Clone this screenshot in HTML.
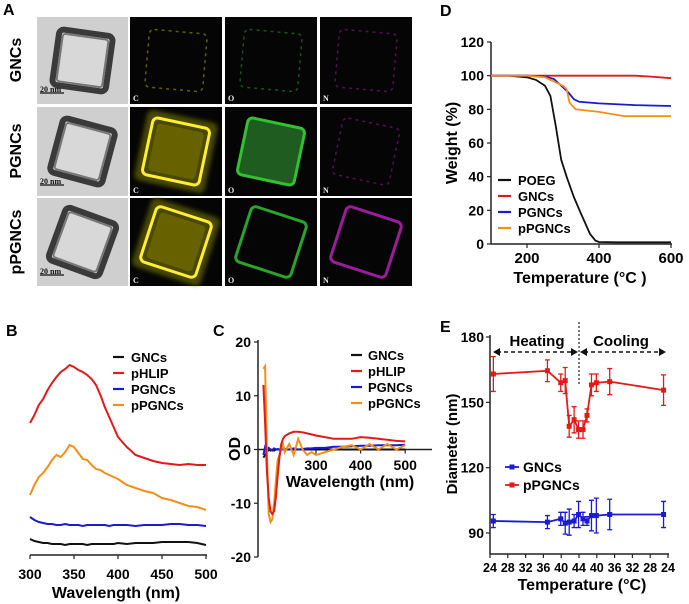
<!DOCTYPE html>
<html><head><meta charset="utf-8"><style>
html,body{margin:0;padding:0;background:#fff;}
svg{display:block;font-family:"Liberation Sans",Arial,sans-serif;font-weight:bold;}
</style></head><body>
<svg id="fig" width="689" height="604" viewBox="0 0 689 604" xmlns="http://www.w3.org/2000/svg">
<defs>
<filter id="glow" x="-30%" y="-30%" width="160%" height="160%"><feGaussianBlur stdDeviation="2.2"/></filter>
<filter id="soft"><feGaussianBlur stdDeviation="1"/></filter>
</defs>
<!-- Panel A -->
<g>
<text x="3" y="15" font-size="16">A</text>
<text transform="translate(21,60) rotate(-90)" text-anchor="middle" font-size="16">GNCs</text>
<text transform="translate(21,151) rotate(-90)" text-anchor="middle" font-size="16">PGNCs</text>
<text transform="translate(21,242) rotate(-90)" text-anchor="middle" font-size="16">pPGNCs</text>
<g id="cells"></g>
</g>
<!-- Panel B -->
<g id="pb">
<text x="6" y="336" font-size="16">B</text>
</g>
<g id="pc">
<text x="213" y="336" font-size="16">C</text>
</g>
<g id="pd">
<text x="440" y="16" font-size="16">D</text>
</g>
<g id="pe">
<text x="440" y="332" font-size="16">E</text>
</g>
</svg>
<script>
// ---------- Panel B data ----------
const bWave = [300,305,310,315,320,325,330,335,340,345,350,355,360,365,370,375,380,385,390,395,400,410,420,430,440,450,460,470,480,490,500];
const bRed = [132,140,150,156,165,172,178,183,186,190,188,185,183,180,176,170,160,148,138,128,118,108,100,97,94,92,91,90,91,90,90];
const bOrange = [60,70,78,82,88,95,100,98,103,110,108,102,96,95,90,86,85,82,80,78,76,70,67,64,62,57,55,52,49,48,45];
const bBlue = [38,35,33,32,31,31,30,30,31,30,30,30,29,30,30,30,30,30,29,30,30,30,29,30,30,30,31,31,30,30,29];
const bBlack = [16,14,13,12,12,11,11,11,10,11,11,11,11,10,11,11,11,11,11,11,12,11,12,12,12,13,13,13,13,12,10];
const bSeries = ["GNCs","pHLIP","PGNCs","pPGNCs"];
const bTicks = [300,350,400,450,500];
// ---------- Panel C data ----------
const cWave = [182,186,190,194,198,202,206,210,214,218,222,226,230,240,250,260,270,280,290,300,320,340,360,380,400,420,440,460,480,500];
const cRed = [12,5,-4,-9,-11.5,-12,-11.5,-9,-5,-1.5,1,2,2.5,3,3.3,3.3,3.2,3,2.8,2.6,2.3,2,2,2,2.3,2.2,2,1.8,1.6,1.5];
const cOrange = [15,15.5,0,-12,-13.5,-13,-10,-6,-2,-1,0,1,-0.5,1,-1,2,0,-1,-0.5,-1,-0.5,0,0.5,0.8,0,1,0,1,0,0.8];
const cBlue = [-1,0.5,0,0.3,0,-0.2,0.2,0,0.1,0,0,0,0.1,0,0.2,0,0.1,0.2,0.2,0.3,0.3,0.5,0.5,0.6,0.7,0.7,0.8,0.8,0.8,0.9];
const cBlack = [-1.5,-1,-0.5,0,-0.2,0,-0.2,0,0,0,0,0,0,0,0,0,0,0,0,0,0,0,0,0,0,0,0,0,0,0];
const cYTicks = [20,10,0,-10,-20];
const cXTicks = [300,400,500];
// ---------- Panel D data ----------
const dPoegT = [100,150,200,225,250,265,280,295,310,330,350,375,390,400,450,600];
const dPoeg = [100,100,99,97.5,94,88,70,50,40,28,18,6,2,1.2,1,1];
const dGncT = [100,200,300,400,500,540,600];
const dGnc = [100,100,100,100,100,99.5,98.5];
const dPgT = [100,200,250,275,300,315,330,345,400,500,600];
const dPg = [100,100,99.5,98,93,90,86,84.5,83.5,82.5,82];
const dPpT = [100,200,250,300,310,318,335,400,470,600];
const dPp = [100,100,99,94,92,84,80,78.5,76,76];
const dYTicks = [0,20,40,60,80,100,120];
const dXTicks = [200,400,600];
// ---------- Panel E data ----------
const ePos = [0.75,12.9,15.9,16.9,17.8,18.9,19.9,20.9,21.8,22.8,23.9,26.9,39.0];
const eRed = [163,164.5,159,160,139,142,137.5,137.5,144,158,159,159.5,155.6];
const eRedErr = [8,5,4,6,5,6,4,4,3,5,4,6,7];
const eBlue = [95.5,95,96.5,94.5,95,95.5,98.5,96.5,95.5,98,98,98.5,98.5];
const eBlueErr = [3,3,3,5,6,3,6,3,2,7,8,7,6];
const eXTickLabels = ["24","28","32","36","40","44","40","36","32","28","24"];
const eYTicks = [90,120,150,180];

const NS="http://www.w3.org/2000/svg";
function mk(parent,tag,attrs){const e=document.createElementNS(NS,tag);for(const k in attrs)e.setAttribute(k,attrs[k]);parent.appendChild(e);return e;}
function lin(d0,d1,r0,r1){return v=>r0+(v-d0)*(r1-r0)/(d1-d0);}
function pathOf(xs,ys,sx,sy){return xs.map((x,i)=>(i?'L':'M')+sx(x).toFixed(1)+','+sy(ys[i]).toFixed(1)).join('');}

// ---------- Panel A cells ----------
(function(){
  const g=document.getElementById('cells');
  const cols=[[37,91],[130,92],[225,92],[320,92]];
  const rows=[[17,87],[107,89],[198,88]];
  const rn=['gncs','pgncs','ppgncs'];
  const el=['C','O','N'];
  const colC=[['#777700','#ffee33','#eedd00'],['#226622','#33cc33','#22dd22'],['#661166','#aa22aa','#dd22dd']];
  const strength=[[0.25,0.25,0.35],[1,0.9,0.3],[1,0.8,0.9]];
  rows.forEach((r,ri)=>{
    cols.forEach((c,ci)=>{
      const cx=c[0]+c[1]/2, cy=r[0]+r[1]/2;
      const cell=mk(g,'g',{});
      
      
      if(ci===0){
        mk(cell,'rect',{x:c[0],y:r[0],width:c[1],height:r[1],fill:'#cfcfcf'});
        const rot=[8,15,20][ri];
        mk(cell,'rect',{x:cx-27,y:cy-28,width:54,height:56,rx:5,fill:'#d8d8d8',stroke:'#3a3a3a','stroke-width':6,transform:'rotate('+rot+' '+cx+' '+cy+')'});
        mk(cell,'rect',{x:cx-23,y:cy-24,width:46,height:48,rx:3,fill:'none',stroke:'#777','stroke-width':2,transform:'rotate('+rot+' '+cx+' '+cy+')'});
        mk(cell,'line',{x1:c[0]+3,y1:r[1]+r[0]-11,x2:c[0]+27,y2:r[1]+r[0]-11,stroke:'#111','stroke-width':1.2});
        const t=mk(cell,'text',{x:c[0]+3,y:r[1]+r[0]-12,'font-size':8,'font-family':'Liberation Serif,serif',fill:'#111'});
        t.textContent='20 nm';
      } else {
        mk(cell,'rect',{x:c[0],y:r[0],width:c[1],height:r[1],fill:'#050505'});
        const s=strength[ri][ci-1], cc=colC[ci-1];
        const rot=[5,12,18][ri];
        const tf='rotate('+rot+' '+cx+' '+cy+')';
        if(s>0.5){
          if(ci===2&&ri===1){mk(cell,'rect',{x:cx-30,y:cy-30,width:60,height:60,rx:5,fill:cc[0],opacity:0.9,transform:tf});}
          if(ci===1){mk(cell,'rect',{x:cx-36,y:cy-36,width:72,height:72,rx:6,fill:cc[0],opacity:0.6,filter:'url(#glow)',transform:tf});
            mk(cell,'rect',{x:cx-24,y:cy-24,width:48,height:48,rx:4,fill:'#6b6400',opacity:0.9,transform:tf});}
          mk(cell,'rect',{x:cx-29,y:cy-29,width:58,height:58,rx:5,fill:'none',stroke:cc[1],'stroke-width':3,opacity:s,transform:tf});
        } else {
          mk(cell,'rect',{x:cx-29,y:cy-29,width:58,height:58,rx:5,fill:'none',stroke:cc[0],'stroke-width':1.5,'stroke-dasharray':'3 4',opacity:0.8,transform:tf});
        }
        const t=mk(cell,'text',{x:c[0]+3,y:r[0]+r[1]-3,'font-size':8,'font-family':'Liberation Serif,serif',fill:'#eee'});
        t.textContent=el[ci-1];
      }
    });
  });
})();

function axisText(g,x,y,txt,anchor,size,name){const t=mk(g,'text',{x:x,y:y,'text-anchor':anchor,'font-size':size});t.textContent=txt;return t;}
function legend(g,x,y,dy,names,colors,len,tx,size,prefix){
  names.forEach((n,i)=>{
    const e=mk(g,'g',{});
    
    
    mk(e,'line',{x1:x,y1:y+i*dy,x2:x+len,y2:y+i*dy,stroke:colors[i],'stroke-width':2.2});
    const t=mk(e,'text',{x:tx,y:y+i*dy+5,'font-size':size});t.textContent=n;
  });
}

// ---------- Panel B ----------
(function(){
  const g=document.getElementById('pb');
  const sx=lin(300,500,30,206), sy=lin(0,100,555,455);
  mk(g,'line',{x1:30,y1:555,x2:207,y2:555,stroke:'#222','stroke-width':1.5});
  bTicks.forEach(v=>{mk(g,'line',{x1:sx(v),y1:555,x2:sx(v),y2:559,stroke:'#222','stroke-width':1.2});axisText(g,sx(v),579,String(v),'middle',14,'b-x-tick');});
  axisText(g,116,598,'Wavelength (nm)','middle',16,'b-x-axis-title');
  const ser=[[bBlack,'#111','gncs'],[bRed,'#e21a1a','phlip'],[bBlue,'#1a1ad0','pgncs'],[bOrange,'#f0901a','ppgncs']];
  ser.forEach(s=>{const p=mk(g,'path',{d:pathOf(bWave,s[0],sx,sy),fill:'none',stroke:s[1],'stroke-width':2});});
  legend(g,113,357,16,bSeries,['#111','#e21a1a','#1a1ad0','#f0901a'],11,131,13,'b');
})();

// ---------- Panel C ----------
(function(){
  const g=document.getElementById('pc');
  const sx=lin(170,560,258,432), sy=lin(-20,20,557,342);
  mk(g,'line',{x1:258,y1:340,x2:258,y2:557,stroke:'#222','stroke-width':1.5});
  mk(g,'line',{x1:258,y1:sy(0),x2:432,y2:sy(0),stroke:'#222','stroke-width':1.5});
  cYTicks.forEach(v=>{mk(g,'line',{x1:254,y1:sy(v),x2:258,y2:sy(v),stroke:'#222','stroke-width':1.2});axisText(g,251,sy(v)+5,String(v),'end',14,'c-y-tick');});
  cXTicks.forEach(v=>{mk(g,'line',{x1:sx(v),y1:sy(0),x2:sx(v),y2:sy(0)+4,stroke:'#222','stroke-width':1.2});axisText(g,sx(v),470,String(v),'middle',14,'c-x-tick');});
  axisText(g,350,487,'Wavelength (nm)','middle',16,'c-x-axis-title');
  const t=axisText(g,0,0,'OD','middle',16,'c-y-axis-title');t.setAttribute('transform','translate(240,449) rotate(-90)');
  const ser=[[cBlack,'#111','gncs'],[cBlue,'#1a1ad0','pgncs'],[cOrange,'#f0901a','ppgncs'],[cRed,'#e21a1a','phlip']];
  ser.forEach(s=>{const p=mk(g,'path',{d:pathOf(cWave,s[0],sx,sy),fill:'none',stroke:s[1],'stroke-width':2});});
  legend(g,351,355,16,bSeries,['#111','#e21a1a','#1a1ad0','#f0901a'],11,368,13,'c');
})();

// ---------- Panel D ----------
(function(){
  const g=document.getElementById('pd');
  const sx=lin(100,600,491,671), sy=lin(0,120,244,42);
  mk(g,'line',{x1:491,y1:42,x2:491,y2:244,stroke:'#222','stroke-width':1.5});
  mk(g,'line',{x1:491,y1:244,x2:672,y2:244,stroke:'#222','stroke-width':1.5});
  dYTicks.forEach(v=>{mk(g,'line',{x1:487,y1:sy(v),x2:491,y2:sy(v),stroke:'#222','stroke-width':1.2});axisText(g,484,sy(v)+5,String(v),'end',14,'d-y-tick');});
  dXTicks.forEach(v=>{mk(g,'line',{x1:sx(v),y1:244,x2:sx(v),y2:248,stroke:'#222','stroke-width':1.2});axisText(g,sx(v),263,String(v),'middle',15,'d-x-tick');});
  axisText(g,580,283,'Temperature (°C )','middle',16,'d-x-axis-title');
  const t=axisText(g,0,0,'Weight (%)','middle',16,'d-y-axis-title');t.setAttribute('transform','translate(457,143) rotate(-90)');
  const ser=[[dPoegT,dPoeg,'#111','poeg'],[dGncT,dGnc,'#e21a1a','gncs'],[dPgT,dPg,'#1a1ad0','pgncs'],[dPpT,dPp,'#f0901a','ppgncs']];
  ser.forEach(s=>{const p=mk(g,'path',{d:pathOf(s[0],s[1],sx,sy),fill:'none',stroke:s[2],'stroke-width':1.8});});
  legend(g,498,180,16,['POEG','GNCs','PGNCs','pPGNCs'],['#111','#e21a1a','#1a1ad0','#f0901a'],13,518,13,'d');
})();

// ---------- Panel E ----------
(function(){
  const g=document.getElementById('pe');
  const sx=lin(0,40,490,668), sy=lin(90,180,533,337);
  mk(g,'line',{x1:490,y1:335,x2:490,y2:554,stroke:'#222','stroke-width':1.5});
  mk(g,'line',{x1:490,y1:554,x2:669,y2:554,stroke:'#222','stroke-width':1.5});
  eYTicks.forEach(v=>{mk(g,'line',{x1:486,y1:sy(v),x2:490,y2:sy(v),stroke:'#222','stroke-width':1.2});axisText(g,484,sy(v)+5,String(v),'end',14,'e-y-tick');});
  eXTickLabels.forEach((l,i)=>{const x=sx(i*4);mk(g,'line',{x1:x,y1:554,x2:x,y2:558,stroke:'#222','stroke-width':1.2});axisText(g,x,572,l,'middle',12.5,'e-x-tick');});
  axisText(g,582,590,'Temperature (°C)','middle',16,'e-x-axis-title');
  const t=axisText(g,0,0,'Diameter (nm)','middle',15,'e-y-axis-title');t.setAttribute('transform','translate(457,444) rotate(-90)');
  // annotations
  mk(g,'line',{x1:579,y1:322,x2:579,y2:384,stroke:'#222','stroke-width':1.2,'stroke-dasharray':'2 2'});
  const a1=mk(g,'g',{});
  mk(a1,'line',{x1:497,y1:352,x2:574,y2:352,stroke:'#111','stroke-width':1.6,'stroke-dasharray':'4 3'});
  mk(a1,'path',{d:'M493,352 L500,348 L500,356 Z',fill:'#111'});
  mk(a1,'path',{d:'M578,352 L571,348 L571,356 Z',fill:'#111'});
  const a2=mk(g,'g',{});
  mk(a2,'line',{x1:584,y1:352,x2:662,y2:352,stroke:'#111','stroke-width':1.6,'stroke-dasharray':'4 3'});
  mk(a2,'path',{d:'M580,352 L587,348 L587,356 Z',fill:'#111'});
  mk(a2,'path',{d:'M666,352 L659,348 L659,356 Z',fill:'#111'});
  axisText(g,537,346,'Heating','middle',15,'heating-label');
  axisText(g,621,346,'Cooling','middle',15,'cooling-label');
  const ser=[[eBlue,eBlueErr,'#1a1ad0','gncs'],[eRed,eRedErr,'#e21a1a','ppgncs']];
  ser.forEach(s=>{
    const sg=mk(g,'g',{});
    mk(sg,'path',{d:pathOf(ePos,s[0],sx,sy),fill:'none',stroke:s[2],'stroke-width':1.8});
    ePos.forEach((p,i)=>{
      const x=sx(p),y1=sy(s[0][i]-s[1][i]),y2=sy(s[0][i]+s[1][i]);
      const eb=mk(sg,'path',{d:'M'+x+','+y1+'V'+y2+'M'+(x-2.5)+','+y1+'h5M'+(x-2.5)+','+y2+'h5',stroke:s[2],'stroke-width':1.3,fill:'none'});
      
      const m=mk(sg,'rect',{x:x-2.5,y:sy(s[0][i])-2.5,width:5,height:5,fill:s[2]});
      
      
    });
  });
  const lg=[['GNCs','#1a1ad0',467],['pPGNCs','#e21a1a',485]];
  lg.forEach(l=>{const e=mk(g,'g',{});
    mk(e,'line',{x1:505,y1:l[2],x2:519,y2:l[2],stroke:l[1],'stroke-width':1.8});
    mk(e,'rect',{x:509.5,y:l[2]-2.5,width:5,height:5,fill:l[1]});
    const t=mk(e,'text',{x:523,y:l[2]+5,'font-size':14});t.textContent=l[0];});
})();
</script>
</body></html>
